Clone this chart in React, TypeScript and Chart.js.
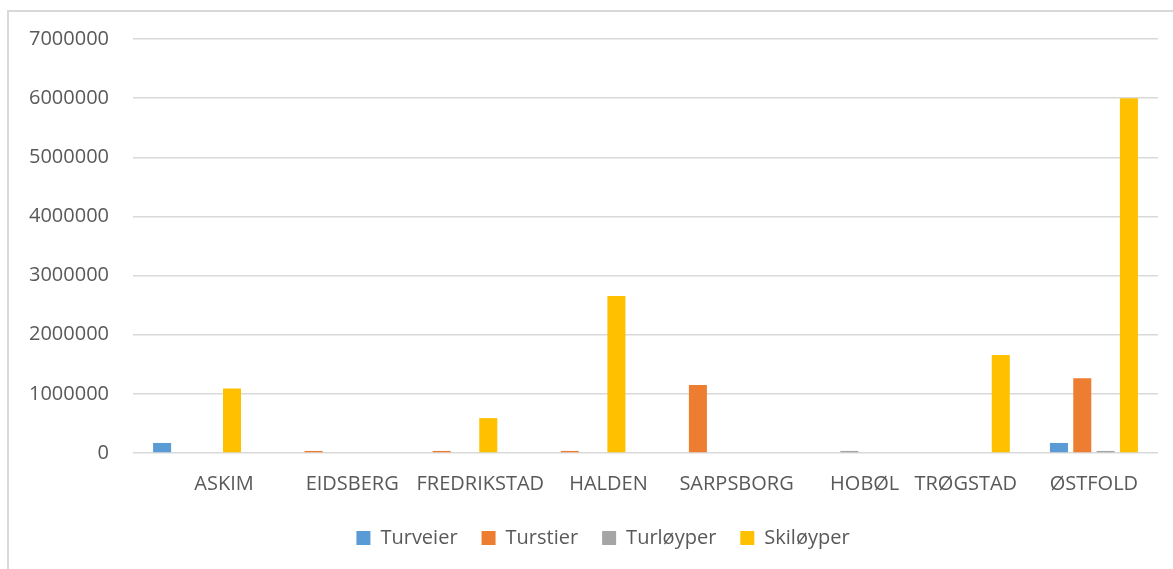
import React, { useEffect, useRef } from "react";
import { Chart, registerables } from "chart.js";

Chart.register(...registerables);

const categories = ["ASKIM", "EIDSBERG", "FREDRIKSTAD", "HALDEN", "SARPSBORG", "HOBØL", "TRØGSTAD", "ØSTFOLD"];
const turveier = [170000, 0, 0, 0, 0, 0, 0, 170000];
const turstier = [0, 35000, 35000, 35000, 1150000, 0, 0, 1265000];
const turloyper = [0, 0, 0, 0, 0, 35000, 0, 35000];
const skiloyper = [1090000, 0, 590000, 2655000, 0, 0, 1655000, 6000000];
const yTicks = [0, 1000000, 2000000, 3000000, 4000000, 5000000, 6000000, 7000000];

// horizontal nudge (px) of each category label, as seen in the reference
const labelShift = [27, 27, 27, 27, 27, 27, 0, 0];

const FONT = "'Open Sans', sans-serif";
const TEXT = "#595959";
const GRID = "#d9d9d9";

const categoryLabels = {
  id: "categoryLabels",
  afterDraw(chart: any) {
    const x = chart.scales.x;
    const ctx = chart.ctx;
    ctx.save();
    ctx.font = `20px ${FONT}`;
    ctx.fillStyle = TEXT;
    ctx.textAlign = "center";
    ctx.textBaseline = "middle";
    const y = chart.chartArea.bottom + 31;
    categories.forEach((c, i) => {
      ctx.fillText(c, x.getPixelForTick(i) + labelShift[i], y);
    });
    ctx.restore();
  },
};

const legendPlacer = {
  id: "legendPlacer",
  afterLayout(chart: any) {
    const lg = chart.legend;
    if (!lg) return;
    const h = lg.bottom - lg.top;
    lg.top = chart.chartArea.bottom + 51;
    lg.bottom = lg.top + h;
    const shift = 594 - (lg.left + lg.right) / 2;
    lg.left += shift;
    lg.right += shift;
  },
};

export default function App() {
  const ref = useRef<HTMLCanvasElement | null>(null);
  useEffect(() => {
    if (!ref.current) return;
    const mk = (label: string, data: number[], color: string) => ({
      label,
      data,
      backgroundColor: color,
      borderWidth: 0,
      categoryPercentage: 0.728,
      barPercentage: 0.773,
    });
    const chart = new Chart(ref.current, {
      type: "bar",
      data: {
        labels: categories,
        datasets: [
          mk("Turveier", turveier, "#5b9bd5"),
          mk("Turstier", turstier, "#ed7d31"),
          mk("Turløyper", turloyper, "#a5a5a5"),
          mk("Skiløyper", skiloyper, "#ffc000"),
        ],
      },
      options: {
        responsive: false,
        animation: false,
        layout: { padding: { left: 0, right: 15, top: 27, bottom: 0 } },
        plugins: {
          tooltip: { enabled: false },
          legend: {
            position: "bottom",
            labels: {
              boxWidth: 14,
              boxHeight: 14,
              padding: 24,
              color: TEXT,
              font: { family: FONT, size: 20 },
            },
          },
        },
        scales: {
          x: {
            grid: { display: false, drawTicks: false },
            border: { display: false },
            ticks: { display: false },
            afterFit: (scale: any) => {
              scale.height = 62;
            },
          },
          y: {
            min: 0,
            max: 7000000,
            afterBuildTicks: (scale: any) => {
              scale.ticks = yTicks.map((v) => ({ value: v }));
            },
            grid: { color: GRID, lineWidth: 1.5, drawTicks: false },
            border: { display: false },
            ticks: {
              color: TEXT,
              font: { family: FONT, size: 20 },
              padding: 24,
              callback: (v: any) => String(v),
            },
            afterFit: (scale: any) => {
              scale.width = 124;
              scale.paddingTop = 12;
              scale.paddingBottom = 12;
            },
          },
        },
      },
      plugins: [categoryLabels, legendPlacer],
    });
    return () => chart.destroy();
  }, []);
  return (
    <div
      style={{
        position: "absolute",
        left: 7,
        top: 10,
        borderLeft: "2px solid #d9d9d9",
        borderTop: "2px solid #d9d9d9",
      }}
    >
      <canvas ref={ref} width={1164} height={557} style={{ display: "block", width: 1164, height: 557 }} />
    </div>
  );
}
